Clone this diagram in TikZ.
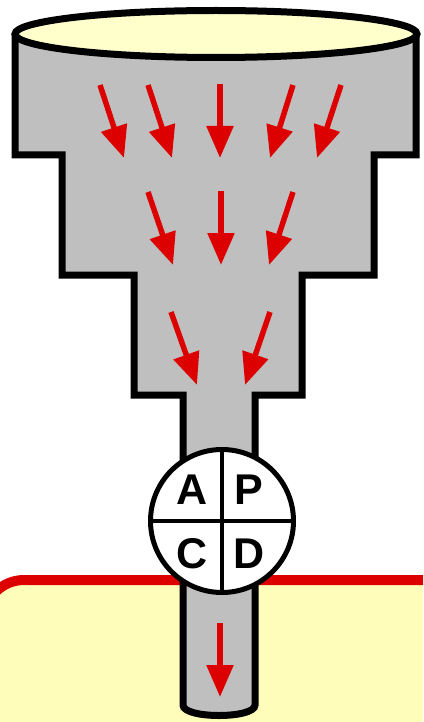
\documentclass[tikz,border=0pt]{standalone}
\usepackage{fontspec}
\setmainfont{Liberation Sans}
\usetikzlibrary{arrows.meta}
\definecolor{funnelgray}{RGB}{191,191,191}
\definecolor{rimyellow}{RGB}{255,255,204}
\definecolor{basinyellow}{RGB}{255,253,185}
\definecolor{flowred}{RGB}{221,0,0}
\begin{document}
\begin{tikzpicture}[x=1pt,y=-1pt,
  flow/.style={draw=flowred, line width=5.5pt, -{Triangle[length=32pt,width=26pt]}},
  wall/.style={draw=black, line width=7pt, fill=funnelgray, miter limit=10},
  letter/.style={font=\bfseries\fontsize{43}{43}\selectfont, inner sep=0pt}]
\useasboundingbox (0,0) rectangle (423,722);
\clip (0,0) rectangle (423,722);

% basin below the funnel
\draw[fill=basinyellow, draw=flowred, line width=10pt, rounded corners=40pt]
  (-16,580) rectangle (520,820);

% stepped funnel body with its stem
\path[wall] (15,34) -- (15,155) -- (62,155) -- (62,275) -- (134,275) -- (134,395)
  -- (183,395) -- (183,705) .. controls (183,719) and (255,719) .. (255,705)
  -- (255,395) -- (302,395) -- (302,275) -- (374,275) -- (374,155) -- (416,155)
  -- (416,34);

% open rim
\draw[line width=7pt, fill=rimyellow] (216,34) ellipse [x radius=201pt, y radius=23.5pt];

% flow, first stage
\coordinate (s11) at (100,85);  \coordinate (t11) at (124,158);
\coordinate (s12) at (148,85);  \coordinate (t12) at (172,158);
\coordinate (s13) at (220,84);  \coordinate (t13) at (220,158);
\coordinate (s14) at (293,85);  \coordinate (t14) at (270,158);
\coordinate (s15) at (341,85);  \coordinate (t15) at (317,158);
% flow, second stage
\coordinate (s21) at (148,192); \coordinate (t21) at (173,265);
\coordinate (s22) at (221,191); \coordinate (t22) at (221,265);
\coordinate (s23) at (293,192); \coordinate (t23) at (269,265);
% flow, third stage
\coordinate (s31) at (171,312); \coordinate (t31) at (197,385);
\coordinate (s32) at (270,312); \coordinate (t32) at (245,385);
% flow out of the stem
\coordinate (s41) at (220,623); \coordinate (t41) at (220,697);

\foreach \a in {11,12,13,14,15,21,22,23,31,32,41}
  \draw[flow] (s\a) -- (t\a);

% PDCA wheel on the stem
\node[circle, draw, line width=5pt, fill=white, minimum size=143pt, inner sep=0pt]
  (pdca) at (222,521) {};
\draw[line width=4pt] (pdca.north) -- (pdca.south);
\draw[line width=4pt] (pdca.west) -- (pdca.east);
\node[letter] (la) at (192,490) {A};
\node[letter] (lp) at (249,490) {P};
\node[letter] (lc) at (192,554) {C};
\node[letter] (ld) at (249,554) {D};
\end{tikzpicture}
\end{document}
